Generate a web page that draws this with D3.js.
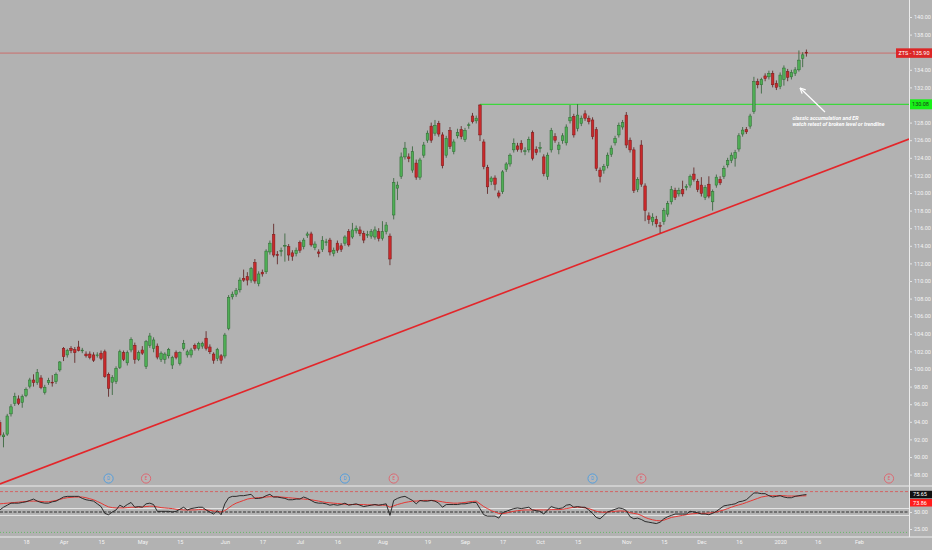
<!DOCTYPE html>
<html><head><meta charset="utf-8">
<script src="https://cdn.jsdelivr.net/npm/d3@7"></script>
<style>html,body{margin:0;padding:0;background:#b2b2b2;overflow:hidden}</style>
</head><body><svg id="c" width="932" height="550"></svg>
<script>
// bar index of first candle (2019-03-07); bar 0 = 2019-03-18
const startBar = -7;
const open = [93.9,92.3,92.6,94.9,96.1,96.6,96.2,
97.0,98.05,98.75,98.45,98.98,97.35,98.45,98.5,98.56,99.9,
102.35,101.6,102.35,102.2,102.5,102.1,101.7,101.7,101.6,101.55,
101.8,101.96,99.4,98.5,98.56,100.2,101.85,100.7,102.16,102.7,
101.1,102.16,100.26,102.7,102.35,102.6,101.1,101.1,101.5,100.45,
101.85,100.65,102.35,101.6,101.6,102.7,102.35,102.6,103.5,102.5,
101.7,101.2,101.5,101.48,104.6,108.2,108.5,109.0,110.3,110.5,
110.1,112.1,109.7,111.0,111.05,113.3,115.3,113.0,113.4,114.0,
113.9,113.2,113.1,114.35,113.9,115.2,115.35,113.8,113.3,113.6,
114.4,114.65,113.15,114.3,114.0,114.3,115.6,115.0,115.7,115.8,
115.4,115.2,115.1,115.0,115.6,114.85,115.6,115.1,117.5,120.55,
121.9,124.1,124.1,122.6,123.4,121.8,124.3,126.0,127.6,126.8,
127.9,126.6,124.3,127.1,124.7,126.5,127.2,126.1,127.65,128.75,
128.2,130.0,125.8,122.9,121.3,121.7,120.0,120.15,122.7,123.3,
124.9,125.35,125.65,124.7,124.9,126.85,124.95,125.1,124.1,121.9,
124.9,126.4,124.95,125.95,125.7,128.2,128.7,127.35,127.9,129.0,
128.5,128.3,127.2,122.6,122.6,123.1,124.4,125.7,126.6,127.5,
128.85,126.0,124.9,120.4,125.45,120.8,117.4,116.75,117.0,116.3,
116.75,117.6,119.0,120.3,119.9,120.4,120.6,120.9,122.15,121.3,
120.9,119.5,121.0,119.0,120.9,121.55,121.9,123.2,123.7,123.95,
125.0,126.7,127.2,127.6,129.25,132.65,132.3,133.3,133.2,133.6,
132.45,132.1,132.9,133.8,133.2,133.6,134.0,135.3,136.0];
const high = [94.2,92.8,94.9,96.0,97.3,97.0,97.1,
97.9,99.0,99.4,100.0,99.3,98.2,99.0,99.3,99.6,100.9,
102.5,102.3,102.6,102.5,103.2,102.4,102.0,102.0,101.9,101.9,
102.1,102.2,99.6,99.3,100.3,102.2,102.1,102.1,103.6,103.0,
102.1,102.6,103.3,104.1,103.6,102.9,102.0,101.9,102.4,101.5,
102.1,102.0,103.3,102.2,102.4,102.9,103.1,103.1,104.3,102.8,
101.9,102.4,101.7,104.1,108.4,108.8,109.2,110.4,111.3,111.0,
111.6,112.5,111.1,111.3,113.6,114.6,116.5,113.4,113.8,115.4,
114.2,113.5,113.8,114.6,114.9,115.6,115.6,114.5,113.6,115.1,
114.8,114.9,113.8,114.6,114.3,115.2,115.9,116.6,116.3,116.2,
115.7,115.7,115.9,116.2,116.0,116.8,116.7,115.4,121.7,121.3,
124.6,125.8,124.5,125.3,123.8,124.0,125.8,127.1,128.0,128.3,
128.2,126.9,126.5,127.5,126.1,127.3,127.6,127.4,128.0,129.1,
128.8,130.08,126.1,123.2,121.9,122.0,120.3,122.6,123.5,124.5,
126.2,125.7,126.0,125.2,126.4,127.1,125.3,125.8,124.4,124.6,
127.4,126.8,125.8,126.8,127.8,130.0,129.0,130.1,128.8,129.4,
128.8,128.6,127.5,122.9,123.3,124.6,125.4,126.5,128.0,128.3,
129.2,126.3,125.2,121.8,126.0,121.1,117.8,117.7,117.4,116.7,
118.3,119.1,120.8,120.6,120.6,121.4,121.0,122.1,122.9,121.6,
121.8,120.9,121.9,120.4,122.1,121.9,123.1,124.0,124.6,124.9,
126.8,127.5,127.5,129.0,133.2,133.0,133.1,133.6,133.9,133.9,
132.8,133.7,134.5,134.1,134.0,134.3,136.2,136.0,136.3];
const low = [92.3,91.1,92.4,94.6,95.8,95.9,95.6,
96.8,97.8,98.0,98.2,97.7,97.1,98.2,98.0,98.3,99.7,
100.9,101.3,101.8,100.7,102.0,101.8,101.3,101.1,100.8,101.3,
101.0,99.0,96.85,97.05,98.3,100.0,100.9,100.4,101.9,100.6,
100.9,101.6,100.0,102.4,101.9,101.1,100.8,100.6,101.2,100.0,
101.1,100.4,102.1,101.3,101.3,102.1,102.1,102.3,102.1,101.7,
100.6,100.9,100.6,101.2,104.4,107.9,108.2,108.7,109.9,109.5,
109.8,109.7,109.4,110.5,110.8,113.0,112.7,111.9,112.8,112.2,
112.3,112.3,112.8,113.2,113.6,114.9,113.9,113.5,112.7,113.3,
114.0,112.9,112.8,113.2,113.3,114.0,113.9,114.8,115.4,115.1,
114.3,114.9,114.8,114.7,114.5,114.6,115.3,111.8,117.0,119.2,
121.6,123.8,123.5,122.3,121.5,121.5,124.0,125.7,125.7,126.5,
126.4,122.8,124.0,125.0,124.4,126.2,126.1,125.8,127.3,127.9,
127.9,125.9,122.7,119.9,120.9,120.3,119.4,119.9,122.4,123.0,
124.6,124.7,124.6,124.3,124.6,123.7,124.3,124.6,121.9,121.5,
124.6,125.7,124.4,125.6,125.4,127.9,126.3,127.0,127.6,128.2,
127.8,126.1,122.5,121.2,122.2,122.8,124.1,125.4,126.3,127.2,
125.1,124.6,120.0,120.1,120.7,116.8,116.5,116.3,116.1,115.45,
116.4,117.3,118.7,119.2,119.6,119.6,120.3,120.6,121.3,120.1,
119.6,119.2,119.4,118.0,120.6,120.9,121.6,122.9,123.4,123.0,
124.7,126.4,126.7,127.3,129.0,131.9,131.3,132.7,132.9,132.0,
131.7,131.8,132.2,132.7,132.9,133.3,133.8,134.3,135.5];
const close = [92.5,92.5,94.66,95.7,96.85,96.1,96.85,
97.7,98.75,98.45,99.58,97.9,97.93,98.7,98.45,99.4,100.8,
101.4,102.1,102.1,101.85,102.1,102.15,101.5,101.3,101.0,101.6,
101.2,99.13,97.8,99.05,100.08,101.96,101.1,101.85,103.37,101.1,
101.85,101.8,103.1,103.75,103.3,101.35,101.8,101.7,102.2,101.3,
101.33,101.85,102.9,101.96,102.16,102.35,102.9,102.9,102.35,101.96,
101.0,102.2,101.0,103.86,108.15,108.5,108.9,110.1,110.1,110.1,
111.4,110.0,110.8,110.8,113.4,114.3,112.95,112.9,113.45,114.05,
112.95,112.8,113.5,113.5,114.65,115.35,114.1,114.2,113.15,114.6,
114.45,113.3,113.5,113.5,113.6,115.0,114.1,115.8,116.0,115.4,
114.65,115.3,115.6,115.8,114.85,115.6,116.36,112.5,121.2,120.9,
124.1,125.1,123.9,124.7,121.8,123.75,125.45,126.8,126.0,127.7,
126.7,123.1,126.2,125.3,125.8,126.85,126.4,127.1,127.75,128.1,
128.5,126.6,123.0,120.7,121.7,121.0,119.65,122.4,123.3,124.3,
125.65,124.95,124.95,124.8,126.1,123.95,124.6,125.15,122.2,124.3,
127.1,126.0,125.45,126.5,127.5,128.6,126.6,128.85,128.5,128.5,
128.1,126.4,122.8,121.85,123.0,124.3,125.1,126.2,127.7,128.0,
125.45,124.9,120.3,121.55,121.0,118.0,117.0,117.25,116.5,116.2,
118.0,118.8,120.4,119.5,120.3,119.9,120.75,121.9,121.55,120.4,
119.95,120.65,119.65,120.15,121.8,121.15,122.8,123.7,124.3,124.6,
126.5,127.15,126.95,128.75,132.65,132.3,132.9,133.0,133.6,132.3,
132.0,133.4,134.2,133.15,133.7,134.0,135.1,135.7,135.9];
const rsi = [53,57,60,63,63,63,64,
65,67,69,66,64,63,63,65,66,69,
72,73,73,73,73,70,68,67,66,62,
58,48,46,50,53,60,57,61,64,57,
58,57,62,63,61,51,51,51,51,50,
51,54,57,53,55,56,57,57,53,50,
47,52,46,62,71,73,73,74,74,75,
76,70,70,71,74,76,72,72,71,70,
68,68,69,69,72,70,67,64,63,63,
62,60,61,60,61,63,60,61,62,60,
58,59,60,61,60,61,62,45,67,70,
72,73,70,67,62,67,66,66,67,66,
63,57,61,61,61,61,62,62,63,64,
64,55,46,44,44,44,41,49,51,53,
55,56,55,56,57,53,52,51,47,53,
58,56,55,56,60,61,57,58,57,57,
53,48,42,40,45,50,52,54,56,55,
52,43,40,41,39,36,35,34,33,35,
40,43,45,47,47,47,47,51,50,49,
47,47,46,48,51,55,59,60,61,62,
65,66,68,73,78,78,77,77,74,72,
73,74,72,71,71,73,74,75,75.65];
const rsiMA = [62,62.5,63,63.5,64,64.5,65,
65.5,66,66,66,65.5,65,65,66,67,68.5,
70,71,71.5,72,72,72,71,69.5,68,65.5,
63,60,57.5,56.5,56,56,56,56.5,57,57,
57,57.5,58,58.5,58.5,57.5,56.5,56,55.5,55,
54,53.5,53,53,53,53,53.5,53.5,53,52.5,
51.5,51,50,52,56,60,63,65,67,69,
70,70.5,71,71.5,72,72.5,72.5,72.5,72,71.5,
71,70.5,70,69.5,69,68.5,68,67,66,65,
64,63.5,63,62.5,62,61.5,61,61,61,61,
61,60.5,60.5,60.5,60,60,60,57,59,61,
62.5,64,65,66,66,66.5,67,67,67,66.5,
66,65,64,63.5,63,63,63.5,64,65,65.5,
66,62,58,55,52,50,48,47.5,48.5,50,
51,52,52.5,53,53,53,53,53,53,53,
53.5,53.5,53.5,54,55,56,57,57,57,56,
55,53,51,50,49.5,50,50.5,51,51.5,51.5,
51,49,48,47,45,42,40,38.5,37.5,37,
38,40,42,43,44,45,46,47,47.5,48,
48,48,48.5,49,50,51.5,53,55,57,59,
60.5,62,64,66,68,70,72,73,74,74,
74,74,74,73.5,73.5,73.5,73.5,73.7,73.86];

const priceTicks = [140,138,134,132,128,126,124,122,120,118,116,114,112,110,108,106,104,102,100,98,96,94,92,90,88];
const rsiTicks = [50,25];
const tickBars = [0,10,20,31,41,53,63,73,83,95,107,117,127,137,147,160,170,180,190,201,211,222];
const tickLabels = ["18","Apr","15","May","15","Jun","17","Jul","16","Aug","19","Sep","17","Oct","15","Nov","15","Dec","16","2020","16","Feb"];
const eventBars = [22,32,85,98,151,164,230];
const eventTypes = ["D","E","D","E","D","E","E"];
const trendBars = [0,169];
const trendPrices = [88.06,115.4];
const breakoutBar = 121, breakoutPrice = 130.08;
const ticker = "ZTS", lastPrice = 135.90;
const rsiLevels = [80,55,50,45,20];
const noteLines = ["classic accumulation and ER","watch retest of broken level or trendline"];

const W = 932, H = 550, axisX = 909, mainBottom = 486, rsiBottom = 537;
const FONT = "Roboto, 'Liberation Sans', Arial, sans-serif";
const svg = d3.select("#c");
svg.append("rect").attr("width",W).attr("height",H).attr("fill","#b2b2b2");

const x = d3.scaleLinear().domain([-6.93, 235.34]).range([0, axisX]);
const y = d3.scaleLinear().domain([86.705, 141.932]).range([mainBottom, 0]);
const yR = d3.scaleLinear().domain([13.24, 88.24]).range([rsiBottom, mainBottom]);
const step = x(1) - x(0);
const bw = step * 0.68;

const defs = svg.append("defs");
defs.append("clipPath").attr("id","cm").append("rect").attr("x",0).attr("y",0).attr("width",axisX).attr("height",mainBottom);
defs.append("clipPath").attr("id","cr").append("rect").attr("x",0).attr("y",mainBottom).attr("width",axisX).attr("height",rsiBottom-mainBottom);

const data = open.map((o,i)=>({b:startBar+i,o,h:high[i],l:low[i],c:close[i],r:rsi[i],m:rsiMA[i]}));

const main = svg.append("g").attr("clip-path","url(#cm)");

// trendline
const tSlope = (trendPrices[1]-trendPrices[0])/(trendBars[1]-trendBars[0]);
const tAt = b => trendPrices[0] + (b - trendBars[0]) * tSlope;
const xd = x.domain();
main.append("line").attr("x1",x(xd[0])).attr("y1",y(tAt(xd[0]))).attr("x2",x(xd[1])).attr("y2",y(tAt(xd[1])))
  .attr("stroke","#e3262a").attr("stroke-width",1.6);

// last price line
main.append("line").attr("x1",0).attr("x2",axisX).attr("y1",y(lastPrice)).attr("y2",y(lastPrice))
  .attr("stroke","#d9534f").attr("stroke-width",0.8).attr("opacity",0.85);
// breakout level
main.append("line").attr("x1",x(breakoutBar)).attr("x2",axisX).attr("y1",y(breakoutPrice)).attr("y2",y(breakoutPrice))
  .attr("stroke","#1fe01f").attr("stroke-width",1);

// candles
const cg = main.append("g");
cg.selectAll("line.w").data(data).join("line").attr("class","w")
  .attr("x1",d=>x(d.b)).attr("x2",d=>x(d.b)).attr("y1",d=>y(d.h)).attr("y2",d=>y(d.l))
  .attr("stroke",d=>d.c>=d.o?"#2f5f33":"#5a1a1a").attr("stroke-width",0.8);
cg.selectAll("rect.b").data(data).join("rect").attr("class","b")
  .attr("x",d=>x(d.b)-bw/2).attr("width",bw)
  .attr("y",d=>y(Math.max(d.o,d.c)))
  .attr("height",d=>Math.max(0.8, Math.abs(y(d.o)-y(d.c))))
  .attr("fill",d=>d.c>=d.o?"#4fae55":"#c8292b")
  .attr("stroke",d=>d.c>=d.o?"#2b6a30":"#7a1818").attr("stroke-width",0.5);

// annotation arrow and text
const ax1 = x(212.95), ay1 = y(129.2), ax2 = x(206.3), ay2 = y(131.93);
main.append("line").attr("x1",ax1).attr("y1",ay1).attr("x2",ax2).attr("y2",ay2).attr("stroke","#fff").attr("stroke-width",1.2);
const ang = Math.atan2(ay1-ay2, ax1-ax2);
[0.45,-0.45].forEach(da=>{
  main.append("line").attr("x1",ax2).attr("y1",ay2)
    .attr("x2",ax2+6*Math.cos(ang+da)).attr("y2",ay2+6*Math.sin(ang+da))
    .attr("stroke","#fff").attr("stroke-width",1.2);
});
main.selectAll("text.note").data(noteLines).join("text").attr("class","note")
  .attr("x",x(204.3)).attr("y",(d,i)=>y(128.3)+i*6)
  .attr("fill","#fff").style("font-family",FONT).style("font-size","5.3px")
  .style("font-weight","bold").style("font-style","italic").text(d=>d);

// event markers
const eg = svg.append("g");
eventBars.forEach((b,i)=>{
  const col = eventTypes[i]==="D" ? "#4a9be0" : "#e0606a";
  eg.append("circle").attr("cx",x(b)).attr("cy",478.5).attr("r",4.6)
    .attr("fill","rgba(255,255,255,0.06)").attr("stroke",col).attr("stroke-width",0.9);
  eg.append("text").attr("x",x(b)).attr("y",478.5).attr("dy","0.35em").attr("text-anchor","middle")
    .attr("fill",col).style("font-family",FONT).style("font-size","4.5px").text(eventTypes[i]);
});

// RSI pane
const rg = svg.append("g").attr("clip-path","url(#cr)");
const lvlStyle = {80:["#d75b5b","3,2",0.9],55:["#eeeeee",null,0.9],50:["#5c5c5c","3,1.5",1.3],45:["#eeeeee",null,0.9],20:["#5fb85f","1,2",0.9]};
rsiLevels.forEach(v=>{
  const s = lvlStyle[v];
  const ln = rg.append("line").attr("x1",0).attr("x2",axisX).attr("y1",yR(v)).attr("y2",yR(v))
    .attr("stroke",s[0]).attr("stroke-width",s[2]);
  if (s[1]) ln.attr("stroke-dasharray",s[1]);
});
rg.append("path").datum(data).attr("fill","none").attr("stroke","#e53935").attr("stroke-width",1)
  .attr("d",d3.line().x(d=>x(d.b)).y(d=>yR(d.m)));
rg.append("path").datum(data).attr("fill","none").attr("stroke","#1c1c1c").attr("stroke-width",0.9)
  .attr("d",d3.line().x(d=>x(d.b)).y(d=>yR(d.r)));

// frame lines
svg.append("line").attr("x1",0).attr("x2",W).attr("y1",mainBottom).attr("y2",mainBottom).attr("stroke","#ececec").attr("stroke-width",1);
svg.append("line").attr("x1",0).attr("x2",W).attr("y1",rsiBottom).attr("y2",rsiBottom).attr("stroke","#ececec").attr("stroke-width",1);
svg.append("line").attr("x1",axisX+0.5).attr("x2",axisX+0.5).attr("y1",0).attr("y2",rsiBottom).attr("stroke","#ececec").attr("stroke-width",1);

function styleAxis(g){
  g.select(".domain").remove();
  g.selectAll(".tick line").attr("stroke","#e6e6e6");
  g.selectAll(".tick text").attr("fill","#f4f4f4").style("font-family",FONT).style("font-size","5.5px");
}
const gy = svg.append("g").attr("transform",`translate(${axisX},0)`)
  .call(d3.axisRight(y).tickValues(priceTicks).tickFormat(d3.format(".2f")).tickSize(3).tickPadding(2));
styleAxis(gy);
const gr = svg.append("g").attr("transform",`translate(${axisX},0)`)
  .call(d3.axisRight(yR).tickValues(rsiTicks).tickFormat(d3.format(".2f")).tickSize(3).tickPadding(2));
styleAxis(gr);
const gx = svg.append("g").attr("transform",`translate(0,${rsiBottom})`)
  .call(d3.axisBottom(x).tickValues(tickBars).tickFormat((d,i)=>tickLabels[i]).tickSize(0).tickPadding(3.5));
styleAxis(gx);

// price labels
function tag(cx, cy, w, h, fill, txt, tfill, anchorX){
  svg.append("rect").attr("x",cx).attr("y",cy-h/2).attr("width",w).attr("height",h).attr("fill",fill);
  svg.append("text").attr("x",anchorX).attr("y",cy).attr("dy","0.35em").attr("text-anchor","middle")
    .attr("fill",tfill).style("font-family",FONT).style("font-size","5.5px").text(txt);
}
tag(896, y(lastPrice), 36, 9.5, "#dc2626", `${ticker} - ${d3.format(".2f")(lastPrice)}`, "#fff", 914);
tag(axisX+1, y(breakoutPrice), 23, 10, "#19f019", d3.format(".2f")(breakoutPrice), "#1a3a1a", 920.5);
const lastR = rsi[rsi.length-1], lastM = rsiMA[rsiMA.length-1];
tag(axisX+1, yR(lastR), 22, 7.5, "#111111", d3.format(".2f")(lastR), "#fff", 920);
tag(axisX+1, yR(lastR)+8.2, 22, 7.5, "#ff1c1c", d3.format(".2f")(lastM), "#fff", 920);
</script></body></html>
